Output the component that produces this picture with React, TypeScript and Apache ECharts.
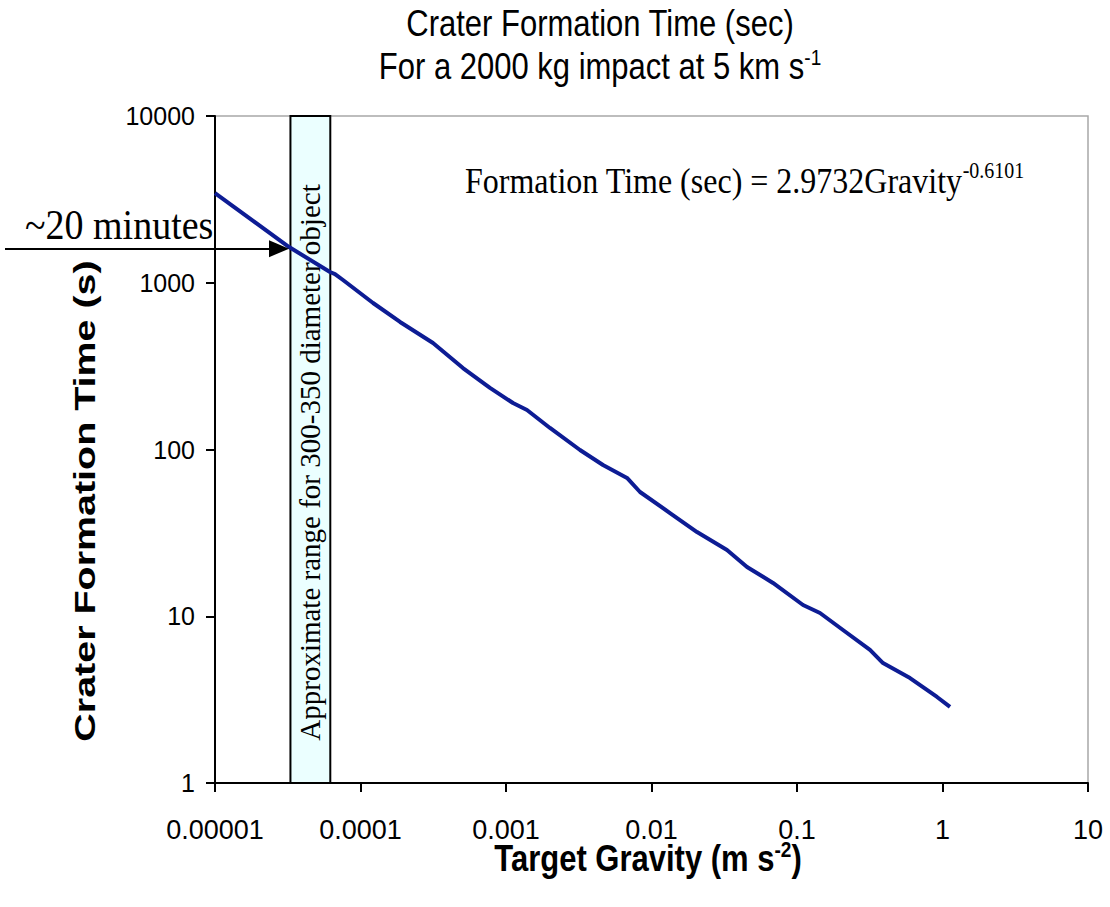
import React, { useEffect, useRef } from "react";
import * as echarts from "echarts";

const gravity = [
  1e-5, 3.23e-5, 6.17e-5, 6.68e-5, 7.58e-5, 1.22e-4, 1.87e-4, 3.15e-4, 5.06e-4, 7.76e-4,
  1.117e-3, 1.394e-3, 2.006e-3, 3.226e-3, 4.64e-3, 6.79e-3, 8.34e-3, 0.0134, 0.02055, 0.03303,
  0.04534, 0.0684, 0.11, 0.1439, 0.207, 0.3175, 0.39, 0.598, 0.917, 1.126,
];
const formationTime = [
  3450, 1638, 1160, 1128, 1039, 756, 582, 435, 308, 234,
  190, 172.6, 134.6, 99.3, 80.7, 67.5, 55.6, 41.6, 32.0, 24.96,
  19.74, 15.83, 11.68, 10.46, 8.27, 6.28, 5.24, 4.26, 3.28, 2.86,
];
const xTickLabels = ["0.00001", "0.0001", "0.001", "0.01", "0.1", "1", "10"];
const yTickLabels = ["1", "10", "100", "1000", "10000"];
const rangeBox = [3.3e-5, 6.2e-5];
const arrowLevel = 1600;

export default function App() {
  const ref = useRef<HTMLDivElement>(null);
  useEffect(() => {
    if (!ref.current) return;
    const chart = echarts.init(ref.current, undefined, { renderer: "svg" });
    const sans = "'Liberation Sans', Arial, sans-serif";
    const serif = "'Liberation Serif', 'Times New Roman', serif";
    const supSans = (fs: number, bold = false) => ({
      fontFamily: sans,
      fontSize: fs,
      fontWeight: bold ? "bold" : "normal",
      verticalAlign: "top",
      padding: [0, 0, 16, 0],
      fill: "#000",
    });
    chart.setOption({
      animation: false,
      backgroundColor: "#ffffff",
      grid: {
        left: 215,
        right: 22,
        top: 116,
        bottom: 124,
        show: true,
        borderColor: "#a8a8a8",
        borderWidth: 1.5,
        backgroundColor: "transparent",
      },
      xAxis: {
        type: "log",
        logBase: 10,
        min: 1e-5,
        max: 10,
        axisLine: { show: true, lineStyle: { color: "#000", width: 2 } },
        axisTick: { show: true, inside: false, length: 9, lineStyle: { color: "#000", width: 2 } },
        minorTick: { show: false },
        splitLine: { show: false },
        axisLabel: {
          margin: 33,
          fontFamily: sans,
          fontSize: 27,
          color: "#000",
          formatter: (v: number) => xTickLabels[Math.round(Math.log10(v)) + 5] ?? "",
        },
      },
      yAxis: {
        type: "log",
        logBase: 10,
        min: 1,
        max: 10000,
        axisLine: { show: true, lineStyle: { color: "#000", width: 2 } },
        axisTick: { show: true, inside: false, length: 9, lineStyle: { color: "#000", width: 2 } },
        splitLine: { show: false },
        axisLabel: {
          margin: 20,
          fontFamily: sans,
          fontSize: 25,
          color: "#000",
          formatter: (v: number) => yTickLabels[Math.round(Math.log10(v))] ?? "",
        },
      },
      series: [
        {
          type: "line",
          data: gravity.map((g, i) => [g, formationTime[i]]),
          showSymbol: false,
          symbol: "none",
          lineStyle: { color: "#0d1c94", width: 4 },
          z: 2,
        },
        {
          type: "line",
          data: [],
          z: 5,
          markArea: {
            silent: true,
            itemStyle: { color: "rgba(222,255,255,0.6)", borderColor: "#000", borderWidth: 2 },
            label: {
              show: true,
              position: "inside",
              rotate: 90,
              offset: [-13, 0],
              fontFamily: serif,
              fontSize: 29,
              color: "#000",
              formatter: "Approximate range for 300-350 diameter object",
            },
            data: [[{ xAxis: rangeBox[0], yAxis: 1 }, { xAxis: rangeBox[1], yAxis: 10000 }]],
          },
          markLine: {
            silent: true,
            symbol: ["none", "triangle"],
            symbolSize: [17, 20],
            lineStyle: { color: "#000", width: 2, type: "solid" },
            label: { show: false },
            data: [[{ x: 5, coord: [1e-5, arrowLevel] }, { x: 279, coord: [rangeBox[0], arrowLevel] }]],
          },
        },
      ],
      graphic: [
        {
          type: "text",
          x: 600,
          y: 23,
          scaleY: 1.18,
          style: {
            text: "Crater Formation Time (sec)",
            fontFamily: sans,
            fontSize: 31,
            fill: "#000",
            align: "center",
            verticalAlign: "middle",
          },
        },
        {
          type: "text",
          x: 600,
          y: 66,
          scaleY: 1.18,
          style: {
            text: "For a 2000 kg impact at 5 km s{sup|-1}",
            fontFamily: sans,
            fontSize: 31,
            fill: "#000",
            align: "center",
            verticalAlign: "middle",
            rich: { sup: supSans(19) },
          },
        },
        {
          type: "text",
          x: 648,
          y: 858,
          scaleY: 1.18,
          style: {
            text: "Target Gravity (m s{sup|-2})",
            fontFamily: sans,
            fontSize: 31,
            fontWeight: "bold",
            fill: "#000",
            align: "center",
            verticalAlign: "middle",
            rich: { sup: supSans(19, true) },
          },
        },
        {
          type: "text",
          x: 85,
          y: 501,
          rotation: Math.PI / 2,
          scaleX: 1.36,
          style: {
            text: "Crater Formation Time (s)",
            fontFamily: sans,
            fontSize: 29,
            fontWeight: "bold",
            fill: "#000",
            align: "center",
            verticalAlign: "middle",
          },
        },
        {
          type: "text",
          x: 25,
          y: 225,
          scaleY: 1.1,
          style: { text: "~20 minutes", fontFamily: serif, fontSize: 38, fill: "#000", align: "left", verticalAlign: "middle" },
        },
        {
          type: "text",
          x: 465,
          y: 181,
          scaleY: 1.12,
          style: {
            text: "Formation Time (sec) = 2.9732Gravity{sup|-0.6101}",
            fontFamily: serif,
            fontSize: 32,
            fill: "#000",
            align: "left",
            verticalAlign: "middle",
            rich: {
              sup: { fontFamily: serif, fontSize: 20, verticalAlign: "top", padding: [0, 0, 18, 0], fill: "#000" },
            },
          },
        },
      ],
    });
    return () => chart.dispose();
  }, []);
  return <div ref={ref} style={{ position: "fixed", left: 0, top: 0, width: 1110, height: 907 }} />;
}
